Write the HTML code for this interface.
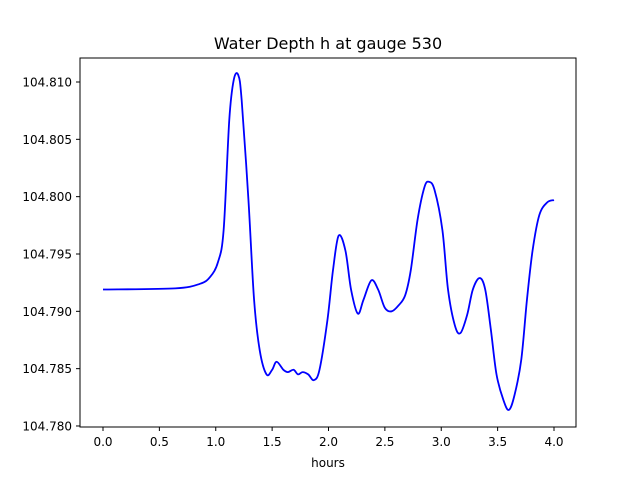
<!DOCTYPE html>
<html><head><meta charset="utf-8"><style>
body{margin:0;background:#fff;font-family:"DejaVu Sans","Liberation Sans",sans-serif}
text{font-family:"DejaVu Sans","Liberation Sans",sans-serif;fill:#000}
</style></head><body>
<svg width="640" height="480" viewBox="0 0 640 480">
<rect x="0" y="0" width="640" height="480" fill="#fff"/>
<text x="328" y="49" font-size="16" text-anchor="middle">Water Depth h at gauge 530</text>
<g id="plot"></g>
<rect x="80" y="58" width="496" height="369" fill="none" stroke="#000" stroke-width="1"/>
<text x="328" y="467" font-size="12" text-anchor="middle">hours</text>
</svg>
<script>
const times=[0,0.64,0.86,0.95,1.02,1.07,1.12,1.16,1.2,1.23,1.29,1.34,1.39,1.45,1.5,1.54,1.6,1.64,1.69,1.73,1.77,1.82,1.87,1.92,1.99,2.04,2.09,2.15,2.2,2.26,2.31,2.38,2.44,2.5,2.56,2.62,2.68,2.73,2.79,2.85,2.89,2.94,3.01,3.06,3.12,3.17,3.23,3.28,3.34,3.39,3.44,3.49,3.55,3.6,3.65,3.71,3.76,3.81,3.87,3.94,4.0];
const depth=[104.7919,104.7920,104.7924,104.7930,104.7943,104.7971,104.8067,104.8102,104.8106,104.8084,104.7997,104.7910,104.7866,104.7845,104.7849,104.7856,104.7849,104.7847,104.7849,104.7845,104.7847,104.7845,104.7840,104.7849,104.7892,104.7936,104.7966,104.7953,104.7919,104.7898,104.7910,104.7927,104.7919,104.7903,104.7900,104.7905,104.7914,104.7936,104.7980,104.8008,104.8013,104.8006,104.7971,104.7919,104.7888,104.7881,104.7897,104.7919,104.7929,104.7919,104.7884,104.7845,104.7823,104.7814,104.7827,104.7858,104.7910,104.7953,104.7984,104.7995,104.7997];
const xTicks=[0,0.5,1,1.5,2,2.5,3,3.5,4];
const yTicks=[104.780,104.785,104.790,104.795,104.800,104.805,104.810];
const NS="http://www.w3.org/2000/svg";
const X=t=>103+t*112.75;
const Y=v=>82+(104.810-v)/0.005*57.33;
const g=document.getElementById('plot');
function mk(tag,attrs){const e=document.createElementNS(NS,tag);for(const k in attrs)e.setAttribute(k,attrs[k]);return e;}
xTicks.forEach(t=>{
 const l=mk('line',{x1:X(t),x2:X(t),y1:427,y2:431,stroke:'#000'});
 
 
 g.appendChild(l);
 const tx=mk('text',{x:X(t),y:446,'font-size':12,'text-anchor':'middle'});
 
 
 tx.textContent=t.toFixed(1);g.appendChild(tx);
});
yTicks.forEach(v=>{
 const l=mk('line',{x1:76,x2:80,y1:Y(v),y2:Y(v),stroke:'#000'});
 
 
 g.appendChild(l);
 const tx=mk('text',{x:72,y:Y(v)+4.5,'font-size':12,'text-anchor':'end'});
 
 
 tx.textContent=v.toFixed(3);g.appendChild(tx);
});
const pts=times.map((t,i)=>[X(t),Y(depth[i])]);
let d='M'+pts[0][0]+','+pts[0][1];
for(let i=0;i<pts.length-1;i++){
 const p0=pts[Math.max(0,i-1)],p1=pts[i],p2=pts[i+1],p3=pts[Math.min(pts.length-1,i+2)];
 const c1=[p1[0]+(p2[0]-p0[0])/6,p1[1]+(p2[1]-p0[1])/6];
 const c2=[p2[0]-(p3[0]-p1[0])/6,p2[1]-(p3[1]-p1[1])/6];
 d+=' C'+c1+' '+c2+' '+p2;
}
const path=mk('path',{d:d,fill:'none',stroke:'#0000ff','stroke-width':1.8});


g.appendChild(path);
</script>
</body></html>
